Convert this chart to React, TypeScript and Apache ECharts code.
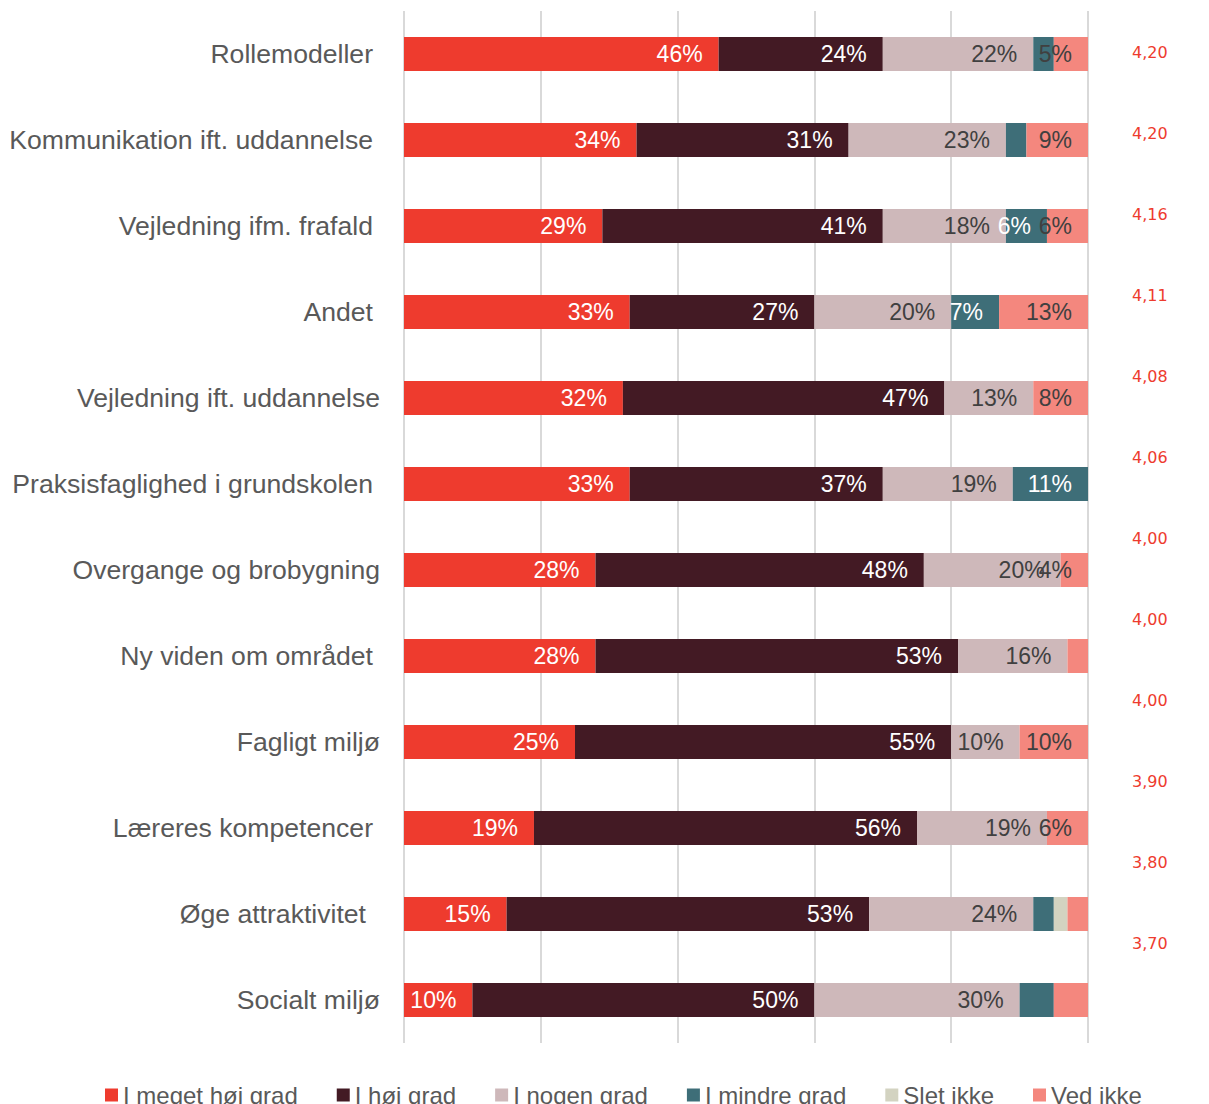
import React, { useEffect, useRef } from "react";
import * as echarts from "echarts";

const categories = [
  "Rollemodeller",
  "Kommunikation ift. uddannelse",
  "Vejledning ifm. frafald",
  "Andet",
  "Vejledning ift. uddannelse",
  "Praksisfaglighed i grundskolen",
  "Overgange og brobygning",
  "Ny viden om området",
  "Fagligt miljø",
  "Læreres kompetencer",
  "Øge attraktivitet",
  "Socialt miljø",
];

const seriesNames = ["I meget høj grad", "I høj grad", "I nogen grad", "I mindre grad", "Slet ikke", "Ved ikke"];

const megetHoejGrad = [46, 34, 29, 33, 32, 33, 28, 28, 25, 19, 15, 10];
const hoejGrad = [24, 31, 41, 27, 47, 37, 48, 53, 55, 56, 53, 50];
const nogenGrad = [22, 23, 18, 20, 13, 19, 20, 16, 10, 19, 24, 30];
const mindreGrad = [3, 3, 6, 7, 0, 11, 0, 0, 0, 0, 3, 5];
const sletIkke = [0, 0, 0, 0, 0, 0, 0, 0, 0, 0, 2, 0];
const vedIkke = [5, 9, 6, 13, 8, 0, 4, 3, 10, 6, 3, 5];

const scores = ["4,20", "4,20", "4,16", "4,11", "4,08", "4,06", "4,00", "4,00", "4,00", "3,90", "3,80", "3,70"];

// rows whose segment label is not shown, per series index
const hiddenLabels: Record<number, number[]> = { 3: [0, 1, 10, 11], 4: [10], 5: [7, 10, 11] };

// styling only: right padding of each category label
const labelPad = [7, 7, 7, 7, 0, 7, 0, 7, 0, 7, 14, 0];

const colors = ["#EE3B2E", "#431A24", "#CEB8BA", "#3E6E78", "#D3D3C1", "#F4877E"];
const labelColors = ["#FFFFFF", "#FFFFFF", "#404040", "#FFFFFF", "#404040", "#404040"];

const FONT = "'Liberation Sans', Arial, sans-serif";

export default function App() {
  const ref = useRef<HTMLDivElement>(null);

  useEffect(() => {
    document.body.style.margin = "0";
    if (!ref.current) return;
    const chart = echarts.init(ref.current, null, { renderer: "svg" });
    const allValues = [megetHoejGrad, hoejGrad, nogenGrad, mindreGrad, sletIkke, vedIkke];

    const rich: Record<string, any> = {};
    [0, 7, 14].forEach((p) => {
      rich["p" + p] = { padding: [0, p, 0, 0], fontSize: 26.6, color: "#595959", fontFamily: FONT };
    });

    const series: any[] = allValues.map((vals, si) => ({
      name: seriesNames[si],
      type: "bar",
      stack: "total",
      xAxisIndex: 0,
      yAxisIndex: 0,
      barWidth: 34,
      itemStyle: { color: colors[si] },
      label: {
        show: true,
        position: "insideRight",
        distance: 16,
        formatter: "{c}%",
        color: labelColors[si],
        fontSize: 23,
        fontFamily: FONT,
      },
      data: vals.map((v, ri) => {
        const hide = v === 0 || (hiddenLabels[si] || []).includes(ri);
        return hide ? { value: v, label: { show: false } } : { value: v };
      }),
    }));

    chart.setOption({
      animation: false,
      color: colors,
      grid: [
        { left: 404, width: 684, top: 11, height: 1032 },
        { left: 1100, width: 20, top: 11.5, height: 973 },
      ],
      xAxis: [
        {
          gridIndex: 0,
          type: "value",
          min: 0,
          max: 100,
          interval: 20,
          axisLabel: { show: false },
          axisLine: { show: false },
          axisTick: { show: false },
          splitLine: { show: true, lineStyle: { color: "#D9D9D9", width: 2 } },
        },
        { gridIndex: 1, type: "value", show: false },
      ],
      yAxis: [
        {
          gridIndex: 0,
          type: "category",
          data: categories,
          inverse: true,
          axisLine: { show: false },
          axisTick: { show: false },
          splitLine: { show: false },
          axisLabel: {
            margin: 24,
            fontSize: 26.6,
            color: "#595959",
            fontFamily: FONT,
            formatter: (value: string, idx: number) => `{p${labelPad[idx]}|${value}}`,
            rich,
          },
        },
        {
          gridIndex: 1,
          type: "category",
          data: scores,
          inverse: true,
          position: "right",
          axisLine: { show: false },
          axisTick: { show: false },
          splitLine: { show: false },
          axisLabel: {
            margin: 12,
            fontSize: 16,
            color: "#EE3B2E",
            fontFamily: "'DejaVu Sans', Verdana, sans-serif",
          },
        },
      ],
      legend: {
        data: seriesNames,
        left: 100,
        top: 1078,
        icon: "rect",
        itemWidth: 13,
        itemHeight: 13,
        itemGap: 39,
        textStyle: { fontSize: 24, color: "#595959", fontFamily: FONT },
      },
      series,
    });

    return () => chart.dispose();
  }, []);

  return <div ref={ref} style={{ width: 1209, height: 1104 }} />;
}
